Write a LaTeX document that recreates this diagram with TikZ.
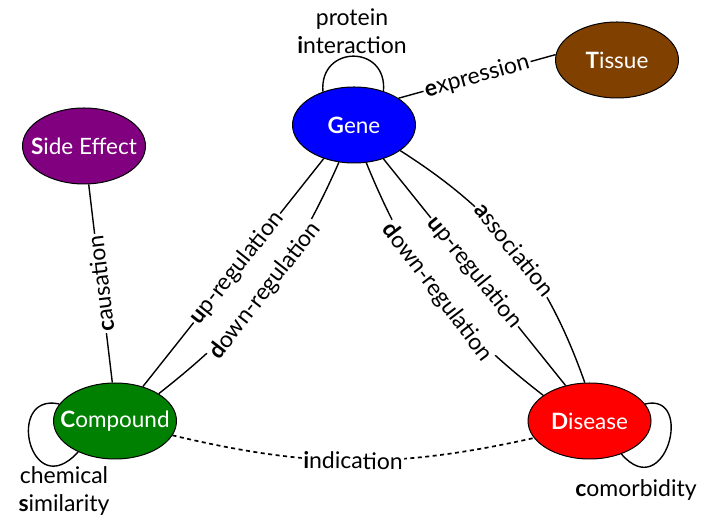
\documentclass[tikz,border=0pt]{standalone}
\usepackage{fontspec}
\setmainfont{Lato}
\usetikzlibrary{shapes.geometric}
\definecolor{genec}{RGB}{0,0,255}
\definecolor{tissuec}{RGB}{128,64,0}
\definecolor{sidec}{RGB}{128,0,128}
\definecolor{compc}{RGB}{0,128,0}
\definecolor{disc}{RGB}{255,0,0}
\newcommand{\bl}[1]{\textbf{#1}}
\tikzset{
  ent/.style={ellipse, draw=black, line width=1pt, minimum width=123pt, minimum height=76pt, inner sep=0pt},
  entname/.style={text=white, inner sep=0pt, font=\fontsize{22.5}{26}\selectfont},
  rel/.style={line width=1.4pt, black},
  lab/.style={fill=white, inner sep=1.5pt, font=\fontsize{23}{28}\selectfont},
  freelab/.style={inner sep=0pt, align=center, font=\fontsize{23}{28}\selectfont},
  dotted rel/.style={rel, line width=1.7pt, dash pattern=on 4pt off 3.5pt}
}
\begin{document}
\begin{tikzpicture}[x=1pt,y=1pt]
\useasboundingbox (0,0) rectangle (709,532);
\node[ent, fill=genec, label={[entname]center:\bl{G}ene}]    (gene)     at (354,407)   {};
\node[ent, fill=tissuec, label={[entname]center:\bl{T}issue}]  (tissue)   at (617,472)   {};
\node[ent, fill=sidec, label={[entname]center:\bl{S}ide Effect}]    (side)     at (84,386)    {};
\node[ent, fill=compc, label={[entname]center:\bl{C}ompound}]    (compound) at (115,111)   {};
\node[ent, fill=disc, label={[entname]center:\bl{D}isease}]     (disease)  at (589.5,111) {};

\node[freelab] (pilab) at (352,501) {protein\\\bl{i}nteraction};
\node[freelab] (cslab) at (64,41)   {chemical\\\bl{s}imilarity};
\node[freelab] (colab) at (636,42)  {\bl{c}omorbidity};

% loops
\draw[rel] (gene.133) .. controls +(-4,47) and +(4,47) .. (gene.49);
\draw[rel] (compound.163) .. controls +(-55,12) and +(-48,-53) .. (compound.220);
\draw[rel] (disease.17) .. controls +(50,12) and +(44,-51) .. (disease.314);

% edges
\draw[rel] (gene.31.5) -- node[lab, sloped, midway] {\bl{e}xpression} (tissue.175);
\draw[rel] (compound.94.5) -- node[lab, sloped, allow upside down, midway] {\bl{c}ausation} (side.277);
\draw[rel] (compound.51) -- node[lab, sloped, pos=0.52] {\bl{u}p-regulation} (gene.228.5);
\draw[rel] (compound.32.5) to[bend right=14] node[lab, sloped, midway] {\bl{d}own-regulation} (gene.248.5);
\draw[rel] (gene.-72.5) to[bend right=15] node[lab, sloped, midway] {\bl{d}own-regulation} (disease.151);
\draw[rel] (gene.-49.5) -- node[lab, sloped, midway] {\bl{u}p-regulation} (disease.124);
\draw[rel] (gene.-29) to[bend left=19] node[lab, sloped, midway] {\bl{a}ssociation} (disease.97);
\draw[dotted rel] (compound.-14) to[bend right=13] node[lab, midway, sloped] {\bl{i}ndication} (disease.197.6);
\end{tikzpicture}
\end{document}
